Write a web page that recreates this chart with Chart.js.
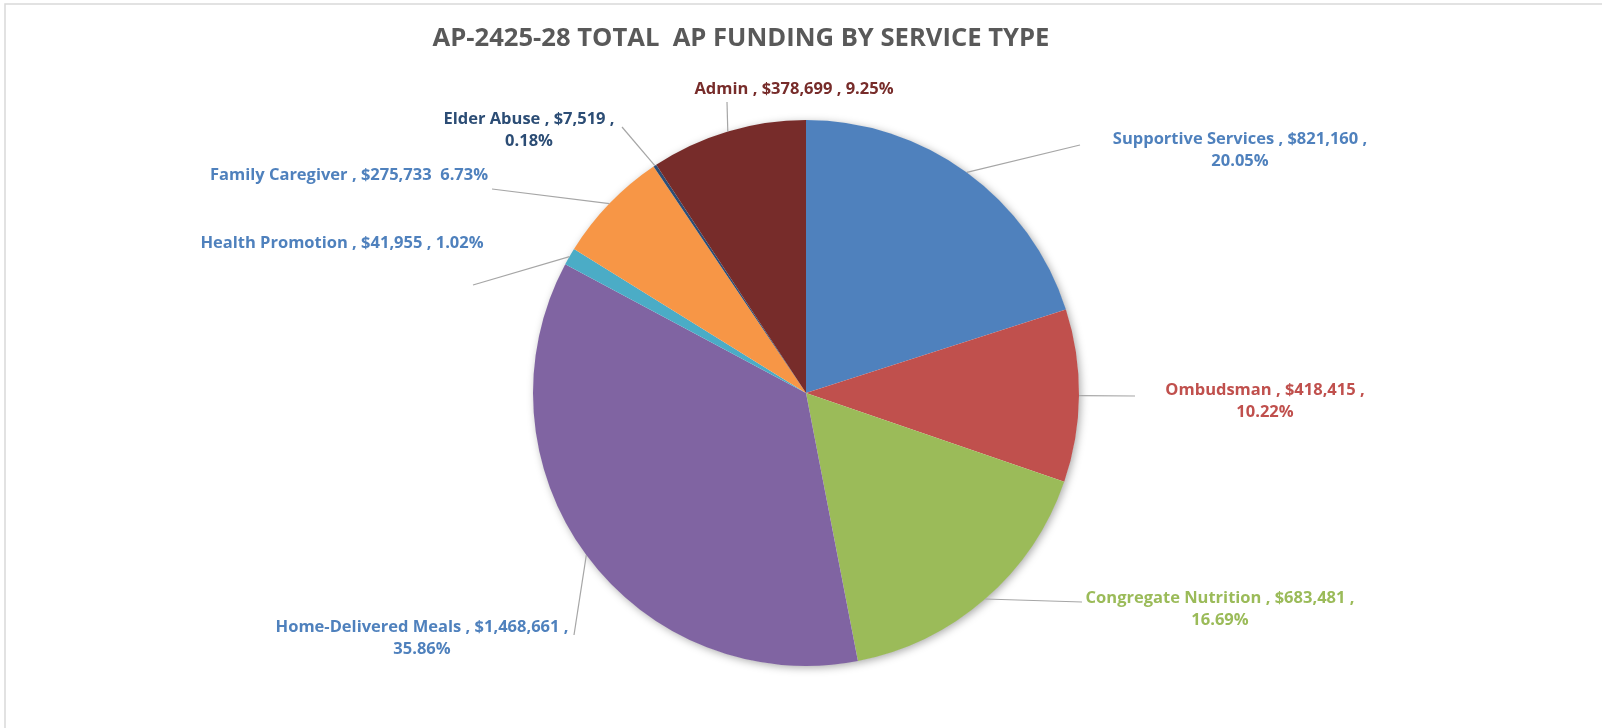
<!DOCTYPE html>
<html>
<head>
<meta charset="utf-8">
<script src="https://cdn.jsdelivr.net/npm/chart.js@4.4.1/dist/chart.umd.min.js"></script>
<style>
  html, body { margin: 0; padding: 0; background: #ffffff; }
  #wrap { width: 1602px; height: 728px; }
</style>
</head>
<body>
<div id="wrap"><canvas id="fundingPie" width="1602" height="728"></canvas></div>
<script>
// Values as shown in the chart's data labels
const chartTitle = "AP-2425-28 TOTAL  AP FUNDING BY SERVICE TYPE";
const serviceTypes = [
    "Supportive Services",
    "Ombudsman",
    "Congregate Nutrition",
    "Home-Delivered Meals",
    "Health Promotion",
    "Family Caregiver",
    "Elder Abuse",
    "Admin"
];
const fundingAmounts = [821160, 418415, 683481, 1468661, 41955, 275733, 7519, 378699];

const sliceColors = ['#4F81BD', '#C0504D', '#9BBB59', '#8064A2', '#4BACC6', '#F79646', '#2C4D75', '#772C2A'];
const labelColors = ['#4F81BD', '#C0504D', '#9BBB59', '#4F81BD', '#4F81BD', '#4F81BD', '#2C4D75', '#772C2A'];
// how each label was wrapped in the original
const labelStyle = ['wrap', 'wrap', 'wrap', 'wrap', 'one', 'nocomma', 'wrap', 'one'];
// label placement relative to pie centre: text centre / first line y, and where the leader meets the label
const labelOffsets = [[434, -254], [459, -3], [414, 205], [-384, 234], [-464, -150], [-457, -218], [-277, -274], [-12, -304]];
const leaderEnds = [[274, -248], [329, 3], [276, 209], [-232, 242], [-333, -108], [-314, -204], [-184, -266], [-79, -291]];

const total = fundingAmounts.reduce((a, b) => a + b, 0);

function labelLines(i) {
    const money = '$' + fundingAmounts[i].toLocaleString('en-US');
    const pct = (fundingAmounts[i] / total * 100).toFixed(2) + '%';
    const name = serviceTypes[i];
    if (labelStyle[i] === 'one') return [name + ' , ' + money + ' , ' + pct];
    if (labelStyle[i] === 'nocomma') return [name + ' , ' + money + '  ' + pct];
    return [name + ' , ' + money + ' ,', pct];
}

const labelFont = "bold 16.5px 'Open Sans', sans-serif";

const decorPlugin = {
    id: 'decor',
    beforeDraw(chart) {
        const ctx = chart.ctx;
        ctx.save();
        ctx.strokeStyle = '#d9d9d9';
        ctx.lineWidth = 1.5;
        ctx.strokeRect(5, 4, 1700, 900);
        ctx.fillStyle = '#595959';
        ctx.font = "bold 25.6px 'Liberation Sans Narrow', 'Open Sans', sans-serif";
        ctx.textAlign = 'center';
        ctx.textBaseline = 'middle';
        ctx.fillText(chartTitle, 741, 39);
        ctx.restore();
    },
    beforeDatasetsDraw(chart) {
        const arc = chart.getDatasetMeta(0).data[0];
        if (!arc) return;
        const ctx = chart.ctx;
        ctx.save();
        ctx.shadowColor = 'rgba(0,0,0,0.35)';
        ctx.shadowBlur = 9;
        ctx.shadowOffsetX = 2;
        ctx.shadowOffsetY = 2;
        ctx.fillStyle = '#ffffff';
        ctx.beginPath();
        ctx.arc(arc.x, arc.y, arc.outerRadius - 0.5, 0, Math.PI * 2);
        ctx.fill();
        ctx.restore();
    },
    afterDatasetsDraw(chart) {
        const ctx = chart.ctx;
        const arcs = chart.getDatasetMeta(0).data;
        ctx.save();
        arcs.forEach((arc, i) => {
            const mid = (arc.startAngle + arc.endAngle) / 2;
            const sx = arc.x + Math.cos(mid) * arc.outerRadius;
            const sy = arc.y + Math.sin(mid) * arc.outerRadius;
            const ex = arc.x + leaderEnds[i][0];
            const ey = arc.y + leaderEnds[i][1];
            ctx.strokeStyle = '#a6a6a6';
            ctx.lineWidth = 1.2;
            ctx.beginPath();
            ctx.moveTo(sx, sy);
            ctx.lineTo(ex, ey);
            ctx.stroke();

            const lines = labelLines(i);
            const tx = arc.x + labelOffsets[i][0];
            let ty = arc.y + labelOffsets[i][1];
            ctx.fillStyle = labelColors[i];
            ctx.font = labelFont;
            ctx.textAlign = 'center';
            ctx.textBaseline = 'middle';
            lines.forEach(line => {
                ctx.fillText(line, tx, ty);
                ty += 22.5;
            });
        });
        ctx.restore();
    }
};

const ctx = document.getElementById('fundingPie').getContext('2d');
const fundingPie = new Chart(ctx, {
    type: 'pie',
    data: {
        labels: serviceTypes,
        datasets: [{
            data: fundingAmounts,
            backgroundColor: sliceColors,
            borderWidth: 0
        }]
    },
    options: {
        responsive: false,
        animation: false,
        layout: {
            padding: { top: 120, bottom: 62, left: 10, right: 0 }
        },
        plugins: {
            legend: { display: false },
            tooltip: { enabled: false },
            title: { display: false }
        }
    },
    plugins: [decorPlugin]
});
</script>
</body>
</html>
